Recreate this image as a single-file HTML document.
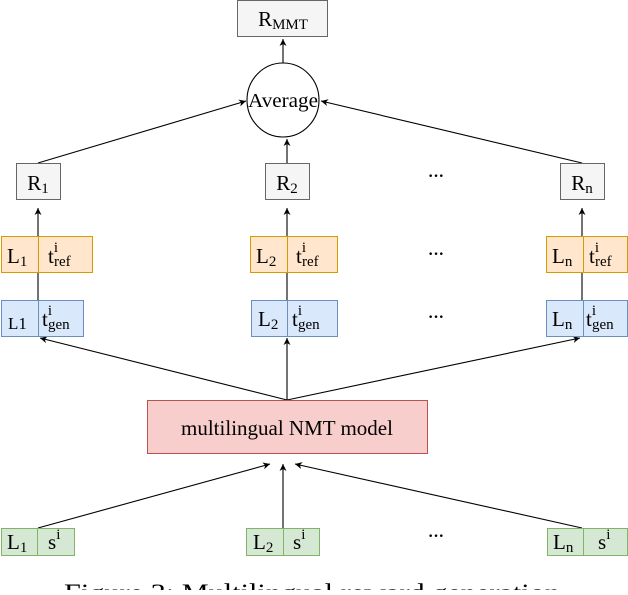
<!DOCTYPE html>
<html><head><style>html,body{margin:0;padding:0;background:#fff;overflow:hidden}</style></head>
<body>
<svg width="628" height="590" viewBox="0 0 628 590" xmlns="http://www.w3.org/2000/svg" font-family="Liberation Serif, serif" fill="#000">
<defs><marker id="a" markerWidth="8" markerHeight="8" refX="7" refY="4" orient="auto" markerUnits="userSpaceOnUse"><path d="M0,0.5 L7,4 L0,7.5 L2,4 z" fill="#000"/></marker></defs>
<g stroke="#000" stroke-width="1.1" fill="none">
<line x1="283" y1="63" x2="283" y2="39" marker-end="url(#a)"/>
<line x1="38" y1="163" x2="246" y2="101" marker-end="url(#a)"/>
<line x1="287" y1="163" x2="287" y2="139" marker-end="url(#a)"/>
<line x1="582" y1="163" x2="321" y2="101" marker-end="url(#a)"/>
<line x1="38" y1="337" x2="38" y2="208" marker-end="url(#a)"/>
<line x1="287" y1="337" x2="287" y2="208" marker-end="url(#a)"/>
<line x1="582" y1="337" x2="582" y2="208" marker-end="url(#a)"/>
<line x1="287" y1="400" x2="40" y2="338" marker-end="url(#a)"/>
<line x1="287" y1="400" x2="287" y2="338" marker-end="url(#a)"/>
<line x1="287" y1="400" x2="580" y2="338" marker-end="url(#a)"/>
<line x1="38" y1="528" x2="270" y2="464" marker-end="url(#a)"/>
<line x1="283" y1="528" x2="283" y2="464" marker-end="url(#a)"/>
<line x1="582" y1="528" x2="295" y2="464" marker-end="url(#a)"/>
</g>
<rect x="237.5" y="0.5" width="90" height="36" fill="#f5f5f5" stroke="#666"/>
<text x="283" y="26" font-size="21" text-anchor="middle">R<tspan font-size="15" dy="3">MMT</tspan></text>
<ellipse cx="283" cy="100" rx="36" ry="37" fill="#fff" stroke="#000" stroke-width="1.1"/>
<text x="283" y="107" font-size="20" text-anchor="middle" textLength="70" lengthAdjust="spacingAndGlyphs">Average</text>
<g fill="#f5f5f5" stroke="#666">
<rect x="16.5" y="163.5" width="44" height="36"/><rect x="265.5" y="163.5" width="44" height="36"/><rect x="560.5" y="163.5" width="44" height="36"/>
</g>
<g font-size="21" text-anchor="middle">
<text x="38" y="190">R<tspan font-size="15" dy="3">1</tspan></text>
<text x="287" y="190">R<tspan font-size="15" dy="3">2</tspan></text>
<text x="582" y="190">R<tspan font-size="15" dy="3">n</tspan></text>
</g>
<g fill="#ffe6cc" stroke="#d79b00">
<rect x="1.5" y="236.5" width="37" height="36"/><rect x="38.5" y="236.5" width="54" height="36"/>
<rect x="250.5" y="236.5" width="37" height="36"/><rect x="287.5" y="236.5" width="50" height="36"/>
<rect x="546.5" y="236.5" width="37" height="36"/><rect x="583.5" y="236.5" width="44" height="36"/>
</g>
<g fill="#dae8fc" stroke="#6c8ebf">
<rect x="1.5" y="300.5" width="37" height="36"/><rect x="38.5" y="300.5" width="45" height="36"/>
<rect x="251.5" y="300.5" width="36" height="36"/><rect x="287.5" y="300.5" width="50" height="36"/>
<rect x="546.5" y="300.5" width="37" height="36"/><rect x="583.5" y="300.5" width="44" height="36"/>
</g>
<g fill="#d5e8d4" stroke="#82b366">
<rect x="1.5" y="528.5" width="36" height="27"/><rect x="37.5" y="528.5" width="37" height="27"/>
<rect x="246.5" y="528.5" width="37" height="27"/><rect x="283.5" y="528.5" width="36" height="27"/>
<rect x="547.5" y="528.5" width="36" height="27"/><rect x="583.5" y="528.5" width="44" height="27"/>
</g>
<rect x="147.5" y="400.5" width="280" height="53" fill="#f8cecc" stroke="#b85450"/>
<text x="287" y="435" font-size="21" text-anchor="middle">multilingual NMT model</text>
<g font-size="21">
<text x="7" y="263">L<tspan font-size="15" dy="3">1</tspan></text>
<text x="48" y="263">t<tspan font-size="15" dy="-11">i</tspan><tspan font-size="15" dx="-4" dy="14">ref</tspan></text>
<text x="256" y="263">L<tspan font-size="15" dy="3">2</tspan></text>
<text x="296" y="263">t<tspan font-size="15" dy="-11">i</tspan><tspan font-size="15" dx="-4" dy="14">ref</tspan></text>
<text x="552" y="263">L<tspan font-size="15" dy="3">n</tspan></text>
<text x="589" y="263">t<tspan font-size="15" dy="-11">i</tspan><tspan font-size="15" dx="-4" dy="14">ref</tspan></text>
<text x="8" y="329" font-size="17">L1</text>
<text x="42" y="326">t<tspan font-size="15" dy="-11">i</tspan><tspan font-size="15" dx="-4" dy="14">gen</tspan></text>
<text x="258" y="326">L<tspan font-size="15" dy="3">2</tspan></text>
<text x="292" y="326">t<tspan font-size="15" dy="-11">i</tspan><tspan font-size="15" dx="-4" dy="14">gen</tspan></text>
<text x="552" y="326">L<tspan font-size="15" dy="3">n</tspan></text>
<text x="586" y="326">t<tspan font-size="15" dy="-11">i</tspan><tspan font-size="15" dx="-4" dy="14">gen</tspan></text>
<text x="7" y="549">L<tspan font-size="15" dy="3">1</tspan></text>
<text x="48" y="549">s<tspan font-size="15" dy="-10">i</tspan></text>
<text x="253" y="549">L<tspan font-size="15" dy="3">2</tspan></text>
<text x="293" y="549">s<tspan font-size="15" dy="-10">i</tspan></text>
<text x="553" y="549">L<tspan font-size="15" dy="3">n</tspan></text>
<text x="598" y="549">s<tspan font-size="15" dy="-10">i</tspan></text>
</g>
<g font-size="16" font-weight="bold" text-anchor="middle">
<text x="436" y="181">···</text><text x="436" y="259">···</text><text x="436" y="322">···</text><text x="436" y="541">···</text>
</g>
<text x="64" y="601" font-size="25" textLength="496" lengthAdjust="spacingAndGlyphs">Figure 3: Multilingual reward generation</text>
</svg>
</body></html>
